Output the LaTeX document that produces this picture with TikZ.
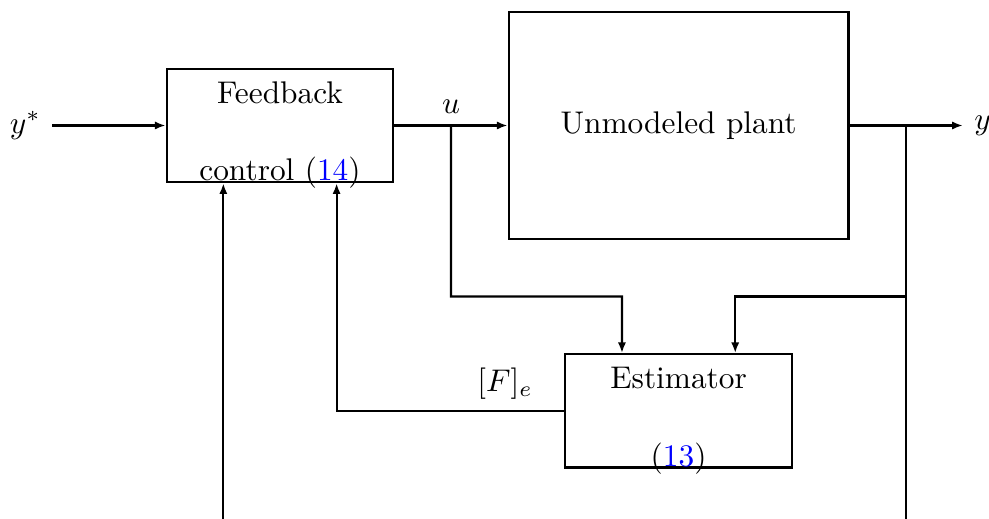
\documentclass[tikz,border=0pt]{standalone}
\usepackage{amsmath,amssymb}
\usepackage{tikz}
\usetikzlibrary{arrows.meta}
\usetikzlibrary{positioning,calc}

\begin{document}
\begin{tikzpicture}[auto, node distance=0.5in, line width=0.7pt,
			>={Latex[length=3.4pt,width=2.6pt]},
			block/.style={draw,rectangle,inner sep=0pt,minimum width=1in,minimum height=0.5in}]
			\useasboundingbox (-1.236in,-1.737in) rectangle (3.130in,0.554in);
			
			\node[block] (fb) {};
			\node[block, minimum width=1.5in, minimum height=1in] (plant) [right =of fb] {Unmodeled plant};
			\node[block] (est) [below =of plant] {};
			\node (ystar) [left =of fb] {$y^*$};
			\node (yout) [right =of plant] {$y$};
			
			\node[anchor=base] (fbtop) at ([yshift=-0.156in]fb.north) {Feedback};
			\node[anchor=base] (fbbot) at ([yshift=0.8pt]fb.south) {control (\textcolor{blue}{14})};
			\node[anchor=base] (esttop) at ([yshift=-0.156in]est.north) {Estimator};
			\node[anchor=base] (estbot) at ([yshift=0.8pt]est.south) {(\textcolor{blue}{13})};
			
			\coordinate (mid) at ($(plant.south)!0.5!(est.north)$);
			\coordinate (r) at ([xshift=-0.25in,yshift=-1.55in]fb.south);
			
			\draw[->] (ystar) -- (fb);
			\draw[->] (fb) -- coordinate[midway] (ub) (plant);
			\node[above] (ulab) at (ub) {$u$};
			\draw[->] (plant) -- coordinate[midway] (yb) (yout);
			\draw[->] (ub) |- ([xshift=-0.25in]mid) -- ([xshift=-0.25in]est.north);
			\draw[line width=0.8pt] (yb) -- (yb |- r);
			\draw[->] (yb |- mid) -| ([xshift=0.25in]est.north);
			\draw[->] (est.west) -| node[pos=0.13, above] (flab) {$[F]_e$} ([xshift=0.25in]fb.south);
			\draw[->] (r) -- ([xshift=-0.25in]fb.south);
			\end{tikzpicture}
\end{document}
